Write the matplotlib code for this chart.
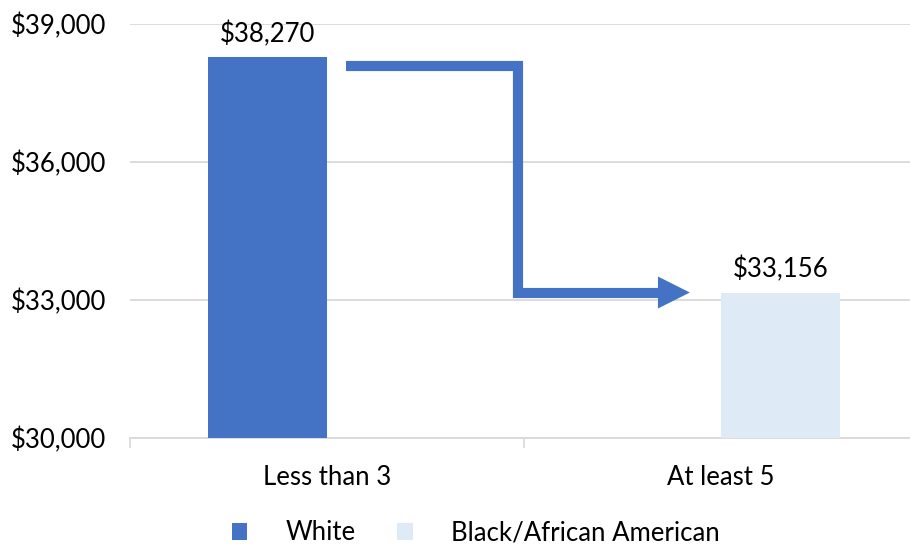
import matplotlib
matplotlib.use("Agg")
import matplotlib.pyplot as plt
from matplotlib.patches import Patch
from matplotlib.ticker import FuncFormatter, MultipleLocator

# data
categories = ["Less than 3", "At least 5"]
series = ["White", "Black/African American"]
white_vals = [38270, None]
black_vals = [None, 33156]
colors = ["#4472C4", "#DEEBF7"]

plt.rcParams["font.family"] = ["Lato", "DejaVu Sans"]

fig = plt.figure(figsize=(9.1, 5.46), dpi=100)
ax = fig.add_axes([130 / 910, 1 - 437.7 / 546, 788 / 910, 414 / 546])

w = 0.302
x = list(range(len(categories)))
for i, vals in enumerate([white_vals, black_vals]):
    off = (i - 0.5) * w
    for xi, v in zip(x, vals):
        if v is None:
            continue
        ax.bar(xi + off, v - 30000, bottom=30000, width=w, color=colors[i], zorder=3)
        ax.annotate(f"${v:,.0f}", (xi + off, v), xytext=(0, 7), textcoords="offset points",
                    ha="center", va="bottom", fontsize=18.5, color="#000000")

# step arrow from first bar down to second
y_top = white_vals[0] - 190
y_bot = black_vals[1]
x_start, x_mid, x_head, x_tip = 0.048, 0.485, 0.84, 0.921
ax.plot([x_start, x_mid, x_mid, x_head + 0.01], [y_top, y_top, y_bot, y_bot],
        color=colors[0], lw=7.3, solid_joinstyle="miter", solid_capstyle="butt", zorder=4)
hh = 16 / 414 * 9000
ax.fill([x_head, x_tip, x_head], [y_bot - hh, y_bot, y_bot + hh], color=colors[0], lw=0, zorder=4)

ax.set_ylim(30000, 39000)
ax.set_xlim(-0.5, 1.5)
ax.yaxis.set_major_locator(MultipleLocator(3000))
ax.yaxis.set_major_formatter(FuncFormatter(lambda v, p: f"${v:,.0f}"))
ax.set_xticks(x)
ax.set_xticklabels(categories)
ax.set_xticks([-0.5, 0.5, 1.5], minor=True)
ax.tick_params(axis="x", which="major", length=0, pad=20, labelsize=18.5)
ax.tick_params(axis="x", which="minor", length=7, color="#D9D9D9", width=1.2)
ax.tick_params(axis="y", length=0, pad=17, labelsize=18.5)

ax.grid(axis="y", color="#D9D9D9", lw=1.3, zorder=0)
for s in ["top", "right", "left"]:
    ax.spines[s].set_visible(False)
ax.spines["bottom"].set_color("#D9D9D9")
ax.spines["bottom"].set_linewidth(1.3)

handles = [Patch(facecolor=c, edgecolor="none") for c in colors]
fig.legend(handles, series, loc="center", bbox_to_anchor=(476 / 910, 1 - 533 / 546),
           ncol=2, frameon=False, fontsize=18.5, handlelength=0.6, handleheight=0.6,
           handletextpad=1.5, columnspacing=1.6)

fig.savefig("out.png", dpi=100)
